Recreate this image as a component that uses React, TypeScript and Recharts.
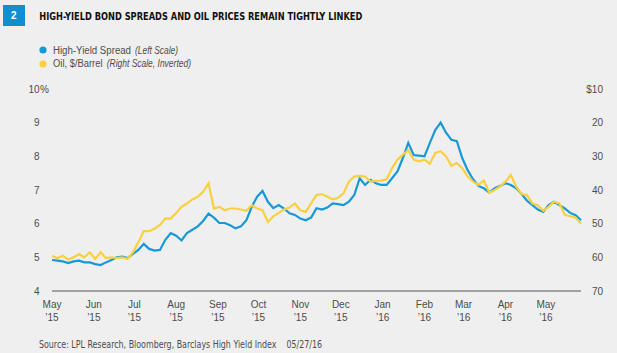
import { LineChart, Line, XAxis, YAxis } from "recharts"

// days since May 1 2015, one reading every 4 days
const days = [
  0, 4, 8, 12, 16, 20, 24, 28, 32, 36,
  40, 44, 48, 52, 56, 60, 64, 68, 72, 76,
  80, 84, 88, 92, 96, 100, 104, 108, 112, 116,
  120, 124, 128, 132, 136, 140, 144, 148, 152, 156,
  160, 164, 168, 172, 176, 180, 184, 188, 192, 196,
  200, 204, 208, 212, 216, 220, 224, 228, 232, 236,
  240, 244, 248, 252, 256, 260, 264, 268, 272, 276,
  280, 284, 288, 292, 296, 300, 304, 308, 312, 316,
  320, 324, 328, 332, 336, 340, 344, 348, 352, 356,
  360, 364, 368, 372, 376, 380, 384, 388, 392,
]

// high-yield spread, %
const spread = [
  4.92, 4.9, 4.88, 4.83, 4.88, 4.9, 4.85, 4.85, 4.8, 4.77,
  4.85, 4.92, 5.0, 5.02, 4.98, 5.1, 5.22, 5.4, 5.25, 5.2,
  5.22, 5.52, 5.72, 5.64, 5.5, 5.72, 5.82, 5.92, 6.08, 6.3,
  6.18, 6.02, 6.02, 5.95, 5.86, 5.92, 6.1, 6.5, 6.8, 6.97,
  6.65, 6.46, 6.55, 6.45, 6.31, 6.26, 6.15, 6.1, 6.18, 6.46,
  6.42, 6.48, 6.6, 6.58, 6.55, 6.65, 6.85, 7.35, 7.15, 7.3,
  7.2, 7.15, 7.15, 7.35, 7.55, 7.95, 8.4, 8.04, 8.02, 8.0,
  8.4, 8.78, 9.0, 8.7, 8.49, 8.45, 7.95, 7.59, 7.32, 7.12,
  7.05, 6.92, 7.05, 7.12, 7.2, 7.15, 7.05, 6.88, 6.68, 6.55,
  6.42, 6.35, 6.55, 6.65, 6.55, 6.45, 6.32, 6.25, 6.1,
]

// oil, $/barrel (plotted on the inverted right scale)
const oil = [
  59.6, 60.2, 59.5, 60.7, 60.0, 59.0, 60.0, 58.5, 60.5, 58.5,
  60.2, 60.0, 60.2, 60.0, 60.5, 58.5, 55.5, 52.2, 52.2, 51.5,
  50.4, 48.4, 48.5, 46.8, 45.0, 44.0, 42.8, 42.0, 40.5, 38.0,
  45.5, 45.0, 46.0, 45.5, 45.5, 45.8, 46.2, 44.5, 45.5, 46.0,
  49.5, 47.8, 46.8, 45.8, 45.2, 44.0, 46.0, 46.5, 44.0, 41.5,
  41.2, 42.0, 42.8, 42.3, 41.0, 37.5, 36.0, 35.8, 36.0, 37.5,
  37.3, 37.2, 36.8, 33.5, 31.0, 29.5, 28.2, 31.0, 31.5, 31.0,
  32.2, 29.0, 28.5, 30.0, 32.8, 32.0, 33.5, 36.0, 37.5, 38.5,
  37.2, 40.8, 40.0, 39.0, 37.5, 35.5, 39.0, 41.2, 41.5, 44.0,
  44.5, 46.2, 45.0, 43.5, 44.0, 47.4, 47.8, 48.2, 50.0,
]

const monthTicks = [0, 31, 61, 92, 123, 153, 184, 214, 245, 276, 305, 336, 366]
const monthLabels = ["May", "Jun", "Jul", "Aug", "Sep", "Oct", "Nov", "Dec", "Jan", "Feb", "Mar", "Apr", "May"]
const yearLabels = ["’15", "’15", "’15", "’15", "’15", "’15", "’15", "’15", "’16", "’16", "’16", "’16", "’16"]
const spreadTicks = [4, 5, 6, 7, 8, 9, 10]
const oilTicks = [10, 20, 30, 40, 50, 60, 70]

const data = days.map((d, i) => ({ day: d, spread: spread[i], oil: oil[i] }))

const BLUE = "#1799d8"
const YELLOW = "#f9d040"
const TEXT = "#4d4d4d"
const FONT = "'Liberation Sans', Arial, sans-serif"
const NARROW = "'Liberation Sans Narrow', 'DejaVu Sans Condensed', 'Liberation Sans', sans-serif"

function MonthTick({ x, payload }: any) {
  const i = monthTicks.indexOf(payload.value)
  return (
    <text textAnchor="middle" fontSize={10} fill={TEXT} fontFamily={FONT}>
      <tspan x={x} y={307.6}>{monthLabels[i]}</tspan>
      <tspan x={x} y={320.6}>{yearLabels[i]}</tspan>
    </text>
  )
}

function SpreadTick({ y, payload }: any) {
  return (
    <g fontSize={10} fill={TEXT} fontFamily={FONT}>
      <text x={39.5} y={y + 3.6} textAnchor="end">{payload.value}</text>
      {payload.value === 10 && <text x={40} y={y + 3.6}>%</text>}
    </g>
  )
}

function OilTick({ y, payload }: any) {
  return (
    <text x={603} y={y + 3.6} textAnchor="end" fontSize={10} fill={TEXT} fontFamily={FONT}>
      {payload.value === 10 ? "$10" : payload.value}
    </text>
  )
}

export default function App() {
  return (
    <div style={{ position: "relative", width: 617, height: 353, background: "#efefef", overflow: "hidden" }}>
      <style>{`body{margin:0}`}</style>
      <svg width={617} height={353} style={{ position: "absolute", left: 0, top: 0 }}>
        <rect x={3} y={5} width={22} height={21} fill="#0f8fd1" />
        <text x={13.8} y={19.4} textAnchor="middle" fill="#fff" fontWeight="bold" fontSize={10} fontFamily={FONT}>
          2
        </text>
        <text
          x={39.3}
          y={20}
          fontWeight="bold"
          fontSize={10.2}
          fill="#111"
          fontFamily={NARROW}
          textLength={323}
          lengthAdjust="spacingAndGlyphs"
        >
          HIGH-YIELD BOND SPREADS AND OIL PRICES REMAIN TIGHTLY LINKED
        </text>

        <circle cx={43} cy={50} r={3.6} fill={BLUE} />
        <text y={53.5} fontSize={10} fill={TEXT} fontFamily={FONT}>
          <tspan x={53} textLength={78} lengthAdjust="spacingAndGlyphs">High-Yield Spread</tspan>
          <tspan x={135} fontStyle="italic" textLength={43} lengthAdjust="spacingAndGlyphs">(Left Scale)</tspan>
        </text>
        <circle cx={43} cy={64} r={3.6} fill={YELLOW} />
        <text y={67.4} fontSize={10} fill={TEXT} fontFamily={FONT}>
          <tspan x={53} textLength={49.5} lengthAdjust="spacingAndGlyphs">Oil, $/Barrel</tspan>
          <tspan x={106.7} fontStyle="italic" textLength={84.3} lengthAdjust="spacingAndGlyphs">(Right Scale, Inverted)</tspan>
        </text>

        <text x={39} y={348.3} fontSize={10.3} fill={TEXT} fontFamily={NARROW} textLength={283} lengthAdjust="spacingAndGlyphs">
          {"Source: LPL Research, Bloomberg, Barclays High Yield Index\u00a0\u00a0\u00a0\u00a005/27/16"}
        </text>
      </svg>

      <div style={{ position: "absolute", left: 0, top: 0 }}>
        <LineChart width={617} height={353} data={data} margin={{ top: 89, right: 0, bottom: 32, left: 0 }}>
          <XAxis
            dataKey="day"
            type="number"
            domain={[0, 392]}
            ticks={monthTicks}
            interval={0}
            height={30}
            tickLine={false}
            axisLine={{ stroke: "#555", strokeWidth: 1 }}
            tick={<MonthTick />}
          />
          <YAxis
            yAxisId="spread"
            orientation="left"
            width={52}
            domain={[4, 10]}
            ticks={spreadTicks}
            interval={0}
            axisLine={false}
            tickLine={false}
            tick={<SpreadTick />}
          />
          <YAxis
            yAxisId="oil"
            orientation="right"
            width={36}
            domain={[10, 70]}
            reversed
            ticks={oilTicks}
            interval={0}
            axisLine={false}
            tickLine={false}
            tick={<OilTick />}
          />
          <Line
            yAxisId="spread"
            dataKey="spread"
            type="linear"
            stroke={BLUE}
            strokeWidth={2.2}
            dot={false}
            isAnimationActive={false}
          />
          <Line
            yAxisId="oil"
            dataKey="oil"
            type="linear"
            stroke={YELLOW}
            strokeWidth={2.2}
            dot={false}
            isAnimationActive={false}
          />
        </LineChart>
      </div>
    </div>
  )
}
